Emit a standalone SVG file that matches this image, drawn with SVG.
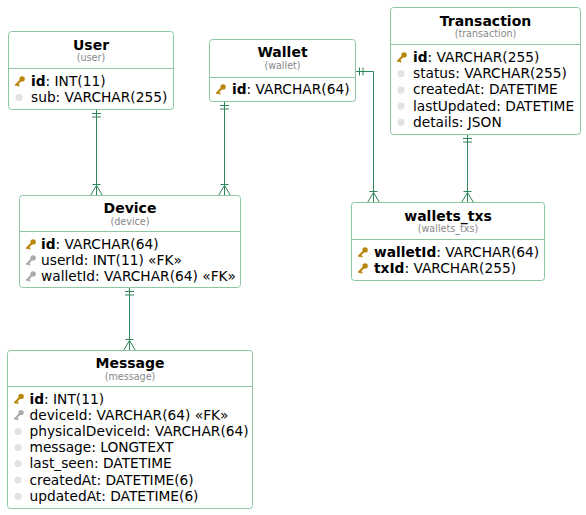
<svg xmlns="http://www.w3.org/2000/svg" xmlns:xlink="http://www.w3.org/1999/xlink" width="586" height="515" viewBox="0 0 586 515">
<style>
.box{fill:#fff;stroke:#8cc7a2;stroke-width:1}
.div{stroke:#8cc7a2;stroke-width:1}
.t{font-family:"DejaVu Sans","Liberation Sans",sans-serif;font-size:14px;font-weight:bold;fill:#000;text-anchor:middle}
.s{font-family:"DejaVu Sans","Liberation Sans",sans-serif;font-size:9.6px;fill:#888;text-anchor:middle}
.r{font-family:"DejaVu Sans","Liberation Sans",sans-serif;font-size:13.75px;fill:#000}
.b{font-weight:bold}
.dot{fill:#e2e2e2}
.c{fill:none;stroke:#2f855a;stroke-width:1}
</style>
<defs>
<g id="pk"><circle cx="2.6" cy="-2.6" r="2.7" fill="#b8860b"/><path d="M1.5,-1.5 L-3.5,3.5 M-2.5,2.5 L-1,4" stroke="#b8860b" stroke-width="2" stroke-linecap="round" fill="none"/></g>
<g id="fk"><circle cx="2.6" cy="-2.6" r="2.7" fill="#aaa"/><path d="M1.5,-1.5 L-3.5,3.5 M-2.5,2.5 L-1,4" stroke="#aaa" stroke-width="2" stroke-linecap="round" fill="none"/></g>
</defs>

<g id="connectors">
<path class="c" d="M96.5,109.5 V195.5 M92,113.5 H101 M92,117 H101 M92.5,184.5 H100.5 M90.5,195.5 L96.5,185.5 L102.5,195.5"/>
<path class="c" d="M224.5,101.5 V195.5 M220,105.5 H229 M220,109 H229 M220.5,184.5 H228.5 M218.5,195.5 L224.5,185.5 L230.5,195.5"/>
<path class="c" d="M355.5,71.5 H373.5 V202.5 M359.5,67.5 V75.5 M363,67.5 V75.5 M369.5,191.5 H377.5 M367.5,202.5 L373.5,192.5 L379.5,202.5"/>
<path class="c" d="M467.5,134.5 V202.5 M463,138.5 H472 M463,142 H472 M463.5,191.5 H471.5 M461.5,202.5 L467.5,192.5 L473.5,202.5"/>
<path class="c" d="M129.5,287.5 V350.5 M125,291.5 H134 M125,295 H134 M125.5,339.5 H133.5 M123.5,350.5 L129.5,340.5 L135.5,350.5"/>
</g>

<g id="user">
<rect class="box" x="8.5" y="31.5" width="165" height="78" rx="3"/>
<text class="t" x="91" y="49.5">User</text>
<text class="s" x="91" y="61">(user)</text>
<line class="div" x1="8.5" y1="68.5" x2="173.5" y2="68.5"/>
<use href="#pk" x="19.5" y="81.5"/>
<text class="r" x="31" y="86"><tspan class="b">id</tspan>: INT(11)</text>
<circle class="dot" cx="19" cy="97.5" r="3.5"/>
<text class="r" x="31" y="102">sub: VARCHAR(255)</text>
</g>

<g id="wallet">
<rect class="box" x="209.5" y="39.5" width="146" height="62" rx="3"/>
<text class="t" x="282.5" y="57">Wallet</text>
<text class="s" x="282.5" y="69">(wallet)</text>
<line class="div" x1="209.5" y1="77.5" x2="355.5" y2="77.5"/>
<use href="#pk" x="220.5" y="89.5"/>
<text class="r" x="232" y="94"><tspan class="b">id</tspan>: VARCHAR(64)</text>
</g>

<g id="transaction">
<rect class="box" x="390.5" y="7.5" width="190" height="127" rx="3"/>
<text class="t" x="485.5" y="25.5">Transaction</text>
<text class="s" x="485.5" y="37">(transaction)</text>
<line class="div" x1="390.5" y1="44.5" x2="580.5" y2="44.5"/>
<use href="#pk" x="401.5" y="57.5"/>
<text class="r" x="413" y="62"><tspan class="b">id</tspan>: VARCHAR(255)</text>
<circle class="dot" cx="401" cy="73.7" r="3.5"/>
<text class="r" x="413" y="78.2">status: VARCHAR(255)</text>
<circle class="dot" cx="401" cy="89.9" r="3.5"/>
<text class="r" x="413" y="94.4">createdAt: DATETIME</text>
<circle class="dot" cx="401" cy="106.1" r="3.5"/>
<text class="r" x="413" y="110.6">lastUpdated: DATETIME</text>
<circle class="dot" cx="401" cy="122.3" r="3.5"/>
<text class="r" x="413" y="126.8">details: JSON</text>
</g>

<g id="device">
<rect class="box" x="19.5" y="195.5" width="221" height="92" rx="3"/>
<text class="t" x="130" y="212.5">Device</text>
<text class="s" x="130" y="224.5">(device)</text>
<line class="div" x1="19.5" y1="231.5" x2="240.5" y2="231.5"/>
<use href="#pk" x="30.5" y="244.5"/>
<text class="r" x="41" y="249"><tspan class="b">id</tspan>: VARCHAR(64)</text>
<use href="#fk" x="30.5" y="260.5"/>
<text class="r" x="41" y="265">userId: INT(11) «FK»</text>
<use href="#fk" x="30.5" y="276.5"/>
<text class="r" x="41" y="281">walletId: VARCHAR(64) «FK»</text>
</g>

<g id="wallets_txs">
<rect class="box" x="351.5" y="202.5" width="193" height="78" rx="3"/>
<text class="t" x="448" y="220.5">wallets_txs</text>
<text class="s" x="448" y="232">(wallets_txs)</text>
<line class="div" x1="351.5" y1="239.5" x2="544.5" y2="239.5"/>
<use href="#pk" x="362.5" y="252.5"/>
<text class="r" x="374" y="257"><tspan class="b">walletId</tspan>: VARCHAR(64)</text>
<use href="#pk" x="362.5" y="268.5"/>
<text class="r" x="374" y="273"><tspan class="b">txId</tspan>: VARCHAR(255)</text>
</g>

<g id="message">
<rect class="box" x="7.5" y="350.5" width="245" height="158" rx="3"/>
<text class="t" x="130" y="367.5">Message</text>
<text class="s" x="130" y="379.5">(message)</text>
<line class="div" x1="7.5" y1="386.5" x2="252.5" y2="386.5"/>
<use href="#pk" x="18.5" y="399"/>
<text class="r" x="29.5" y="403.5"><tspan class="b">id</tspan>: INT(11)</text>
<use href="#fk" x="18.5" y="415.2"/>
<text class="r" x="29.5" y="419.7">deviceId: VARCHAR(64) «FK»</text>
<circle class="dot" cx="18" cy="431.4" r="3.5"/>
<text class="r" x="29.5" y="435.9">physicalDeviceId: VARCHAR(64)</text>
<circle class="dot" cx="18" cy="447.6" r="3.5"/>
<text class="r" x="29.5" y="452.1">message: LONGTEXT</text>
<circle class="dot" cx="18" cy="463.8" r="3.5"/>
<text class="r" x="29.5" y="468.3">last_seen: DATETIME</text>
<circle class="dot" cx="18" cy="480" r="3.5"/>
<text class="r" x="29.5" y="484.5">createdAt: DATETIME(6)</text>
<circle class="dot" cx="18" cy="496.2" r="3.5"/>
<text class="r" x="29.5" y="500.7">updatedAt: DATETIME(6)</text>
</g>
</svg>
